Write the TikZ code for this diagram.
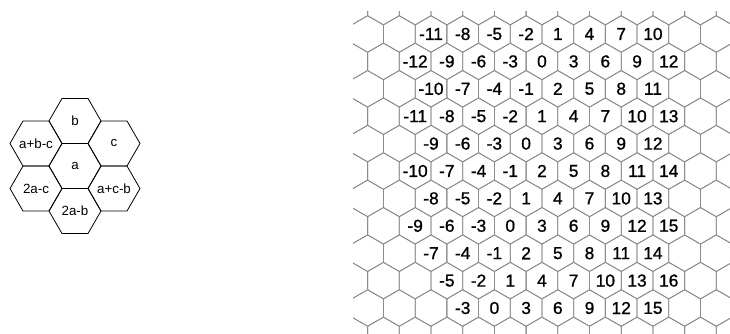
\documentclass[tikz,border=0pt]{standalone}
\usepackage{fontspec}
\setmainfont{Liberation Sans}
\newfontfamily\numfont[FakeBold=1]{Liberation Sans}
\newcommand\flathex[2]{\draw[lhexline] (#1-26,#2) -- (#1-13,#2-22.52) -- (#1+13,#2-22.52)
  -- (#1+26,#2) -- (#1+13,#2+22.52) -- (#1-13,#2+22.52) -- cycle;}
\begin{document}
\begin{tikzpicture}[x=0.75pt,y=-0.75pt,
  lhexline/.style={draw=black,line width=0.6pt,line join=round},
  alabel/.style={inner sep=0pt,font=\fontsize{10}{12}\selectfont},
  gridline/.style={draw=black!45,line width=0.6pt},
  numlabel/.style={font=\numfont\fontsize{13}{15}\selectfont,inner sep=0pt}]
\useasboundingbox (0,0) rectangle (730,334);
% left cluster
\flathex{75}{166}
\flathex{75}{120.96}
\flathex{114}{143.48}
\flathex{36}{143.48}
\flathex{36}{188.52}
\flathex{114}{188.52}
\flathex{75}{211.04}
\node[alabel] (ha)   at (75,166) {a};
\node[alabel] (hb)   at (75,120.96) {b};
\node[alabel] (hc)   at (114,143.48) {c};
\node[alabel] (habc) at (36,143.48) {a+b-c};
\node[alabel] (hac)  at (36,188.52) {2a-c};
\node[alabel] (hacb) at (114,188.52) {a+c-b};
\node[alabel] (hab)  at (75,211.04) {2a-b};
% right grid
\begin{scope}
\clip (353,12) rectangle (730,334);
\foreach \r in {0,...,12} {
  \pgfmathsetmacro{\cy}{34+(\r-1)*27.4}
  \pgfmathsetmacro{\off}{ifthenelse(mod(\r,2)==1,431,415.15)}
  \foreach \k in {-3,...,10} {
    \pgfmathsetmacro{\cx}{\off+\k*31.7}
    \draw[gridline] (\cx-15.85,\cy-9.15) -- (\cx,\cy-18.3) -- (\cx+15.85,\cy-9.15)
      -- (\cx+15.85,\cy+9.15) -- (\cx,\cy+18.3) -- (\cx-15.85,\cy+9.15) -- cycle;
  }
}
\end{scope}
\foreach \r/\kmin/\kmax in {1/0/7,2/0/8,3/0/7,4/0/8,5/0/7,6/0/8,7/0/7,8/0/8,9/0/7,10/1/8,11/1/7} {
  \pgfmathsetmacro{\cy}{34+(\r-1)*27.4}
  \pgfmathsetmacro{\off}{ifthenelse(mod(\r,2)==1,431,415.15)}
  \pgfmathtruncatemacro{\base}{ifthenelse(mod(\r,2)==1,-11+(\r-1)/2,-12+(\r-2)/2)}
  \foreach \k in {\kmin,...,\kmax} {
    \pgfmathsetmacro{\cx}{\off+\k*31.7}
    \pgfmathtruncatemacro{\val}{\base+3*\k}
    \node[numlabel] (n\r-\k) at (\cx,\cy) {\val};
  }
}
\end{tikzpicture}
\end{document}
